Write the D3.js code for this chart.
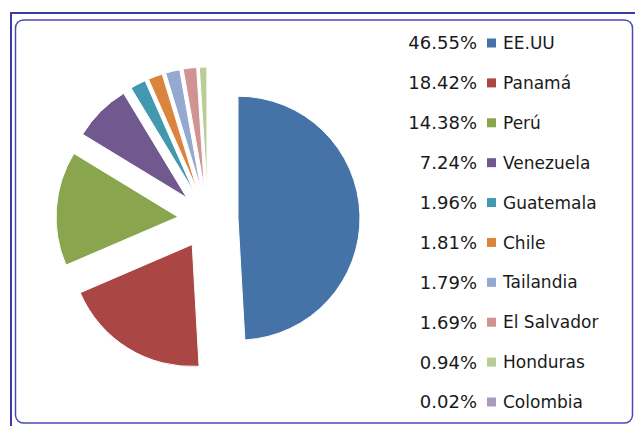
<!DOCTYPE html>
<html>
<head>
<meta charset="utf-8">
<script src="https://cdn.jsdelivr.net/npm/d3@7"></script>
<style>
  html, body { margin: 0; padding: 0; background: #fff; }
  text { font-family: "DejaVu Sans", sans-serif; fill: #1a1a1a; }
</style>
</head>
<body>
<div id="pie_chart"></div>
<script>
// data
const countries = ["EE.UU", "Panamá", "Perú", "Venezuela", "Guatemala", "Chile", "Tailandia", "El Salvador", "Honduras", "Colombia"];
const shares = [46.55, 18.42, 14.38, 7.24, 1.96, 1.81, 1.79, 1.69, 0.94, 0.02];
const colors = ["#4572A7", "#AA4643", "#89A54E", "#71588F", "#4198AF", "#DB843D", "#93A9CF", "#D19392", "#B9CD96", "#A99BBD"];

const data = countries.map((c, i) => ({name: c, value: shares[i], color: colors[i]}));

drawExplodedPie(data)

function drawExplodedPie(data) {
  let width = 635, height = 426;

  let svg = d3.select("#pie_chart")
    .append("svg")
    .attr("width", width)
    .attr("height", height);

  // frame (double line, inner one rounded)
  svg.append("rect")
    .attr("x", 11).attr("y", 13)
    .attr("width", 640).attr("height", 430)
    .attr("fill", "none")
    .attr("stroke", "#3b3ba6")
    .attr("stroke-width", 2);
  svg.append("rect")
    .attr("x", 15.5).attr("y", 20)
    .attr("width", 617).attr("height", 403)
    .attr("rx", 8)
    .attr("fill", "#fff")
    .attr("stroke", "#4a4ab0")
    .attr("stroke-width", 1.5);

  // pie, every slice pulled out from the centre
  let radius = 122, explode = 30;
  let cx = 208, cy = 219;

  let pie = d3.pie()
    .sort(null)
    .value(d => d.value);
  let arc = d3.arc()
    .innerRadius(0)
    .outerRadius(radius);

  let g = svg.append("g")
    .attr("transform", "translate(" + cx + "," + cy + ")");

  g.selectAll("path")
    .data(pie(data))
    .enter()
    .append("path")
    .attr("d", arc)
    .attr("fill", d => d.data.color)
    .attr("stroke", "#fff")
    .attr("stroke-width", 1)
    .attr("transform", d => {
      let a = (d.startAngle + d.endAngle) / 2;
      return "translate(" + (explode * Math.sin(a)) + "," + (-explode * Math.cos(a)) + ")";
    });

  // legend with percentage labels
  let rowY = d3.scalePoint()
    .domain(countries)
    .range([43, 402]);

  let legend = svg.append("g");
  let rows = legend.selectAll("g")
    .data(data)
    .enter()
    .append("g")
    .attr("transform", d => "translate(0," + rowY(d.name) + ")");

  rows.append("rect")
    .attr("x", 487)
    .attr("y", -4.5)
    .attr("width", 9)
    .attr("height", 9)
    .attr("fill", d => d.color);

  rows.append("text")
    .attr("x", 503)
    .attr("y", 0)
    .attr("dy", "0.36em")
    .style("font-size", "17px")
    .text(d => d.name);

  rows.append("text")
    .attr("x", 477)
    .attr("y", 0)
    .attr("dy", "0.36em")
    .attr("text-anchor", "end")
    .style("font-size", "18px")
    .text(d => d.value.toFixed(2) + "%");
}
</script>
</body>
</html>
